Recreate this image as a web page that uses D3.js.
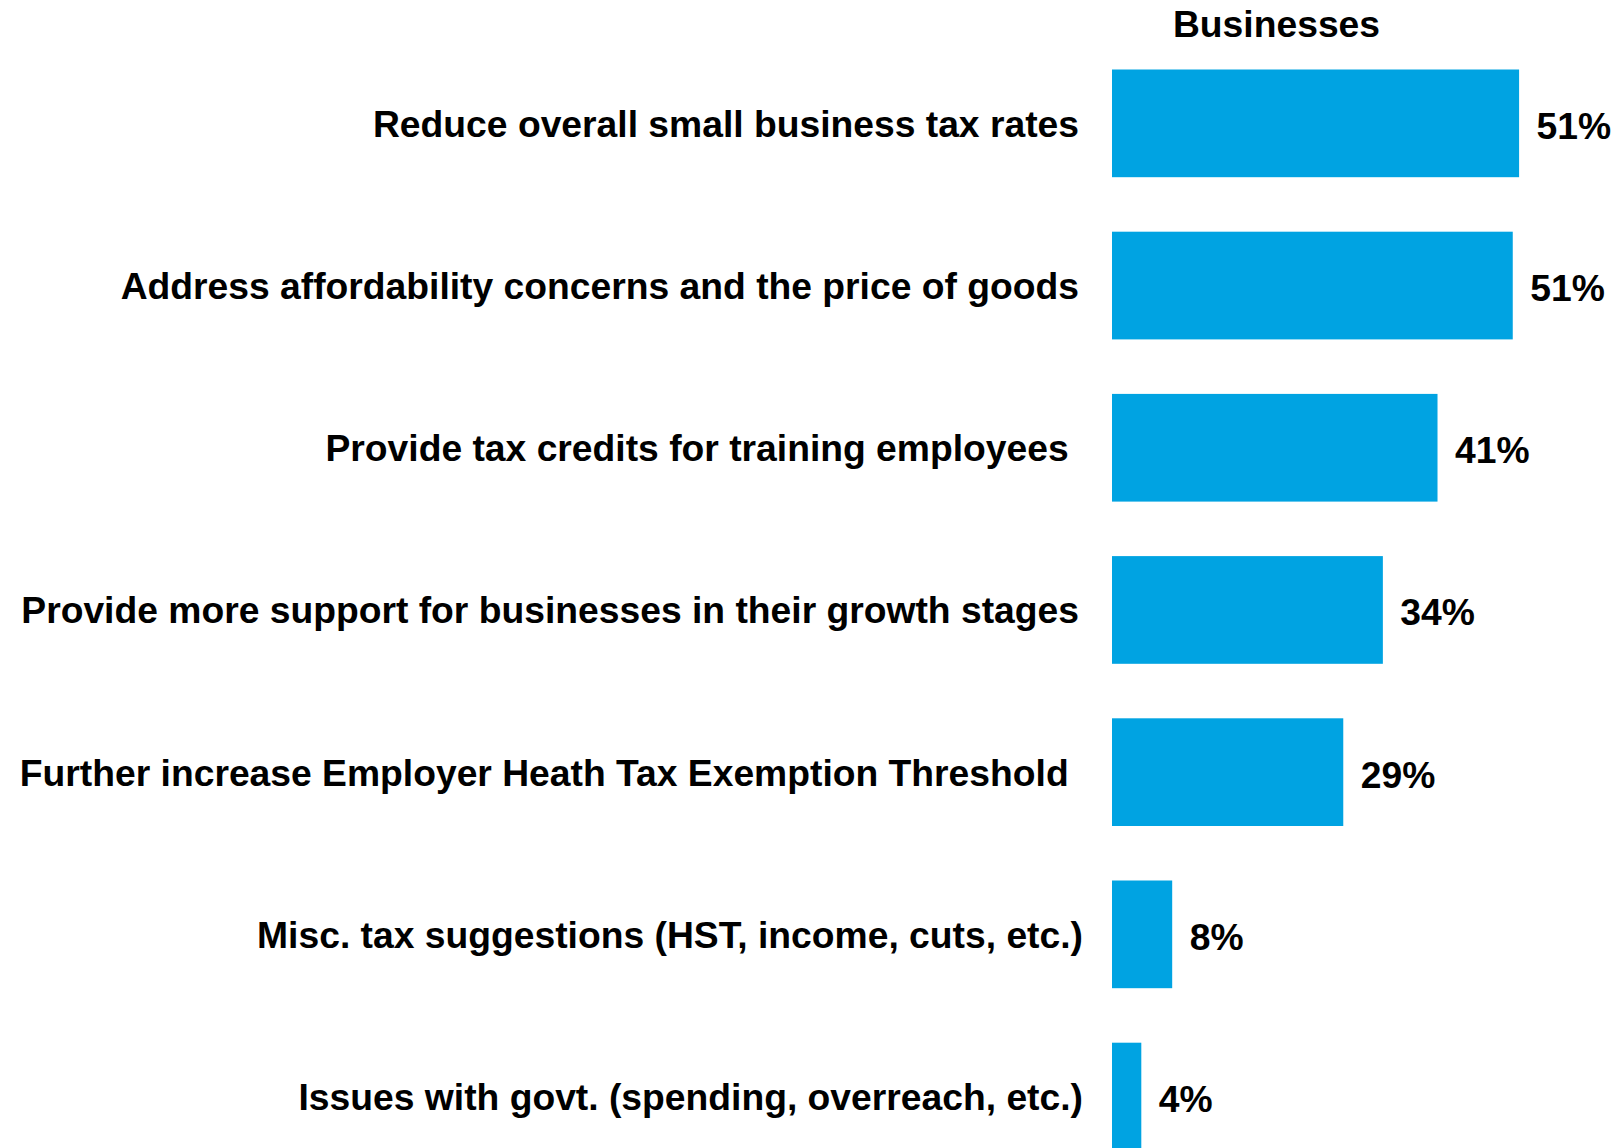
<!DOCTYPE html>
<html>
<head>
<meta charset="utf-8">
<script src="https://cdn.jsdelivr.net/npm/d3@7"></script>
<style>
  html, body { margin: 0; padding: 0; background: #ffffff; }
  svg { display: block; }
  text { font-family: "Liberation Sans", Arial, sans-serif; font-weight: bold; fill: #000; }
</style>
</head>
<body>
<svg id="chart" width="1624" height="1148"></svg>
<script>
// ---- data ----
const categories = [
  "Reduce overall small business tax rates",
  "Address affordability concerns and the price of goods",
  "Provide tax credits for training employees\u00A0",
  "Provide more support for businesses in their growth stages",
  "Further increase Employer Heath Tax Exemption Threshold\u00A0",
  "Misc. tax suggestions (HST, income, cuts, etc.)",
  "Issues with govt. (spending, overreach, etc.)"
];
const values = [51.4, 50.6, 41.1, 34.2, 29.2, 7.6, 3.7];
const seriesName = "Businesses";

// ---- layout ----
const barX0 = 1112;
const svg = d3.select("#chart");

const x = d3.scaleLinear().domain([0, 60]).range([barX0, barX0 + 475.2]);
const step = 162.2, pad = 0.336;
const top0 = 69.5 - step * pad / 2;
const y = d3.scaleBand()
  .domain(categories)
  .range([top0, top0 + 7 * step])
  .paddingInner(pad)
  .paddingOuter(pad / 2);

const fs = 37.25;

// header
svg.append("text")
  .attr("x", 1276.5)
  .attr("y", 36.5)
  .attr("text-anchor", "middle")
  .attr("font-size", fs)
  .text(seriesName);

const rows = svg.append("g").selectAll("g")
  .data(categories.map((c, i) => ({ c, v: values[i], i })))
  .join("g");

rows.append("rect")
  .attr("x", x(0))
  .attr("y", d => y(d.c))
  .attr("width", d => x(d.v) - x(0))
  .attr("height", y.bandwidth())
  .attr("fill", "#00a3e2");

rows.append("text")
  .attr("x", d => 1079 + (d.i >= 5 ? 4 : 0))
  .attr("y", d => y(d.c) + y.bandwidth() / 2 + 13.5)
  .attr("text-anchor", "end")
  .attr("font-size", fs)
  .attr("xml:space", "preserve")
  .style("white-space", "pre")
  .text(d => d.c);

rows.append("text")
  .attr("x", d => x(d.v) + 17.5)
  .attr("y", d => y(d.c) + y.bandwidth() / 2 + 15.5)
  .attr("text-anchor", "start")
  .attr("font-size", fs)
  .text(d => Math.round(d.v) + "%");
</script>
</body>
</html>
